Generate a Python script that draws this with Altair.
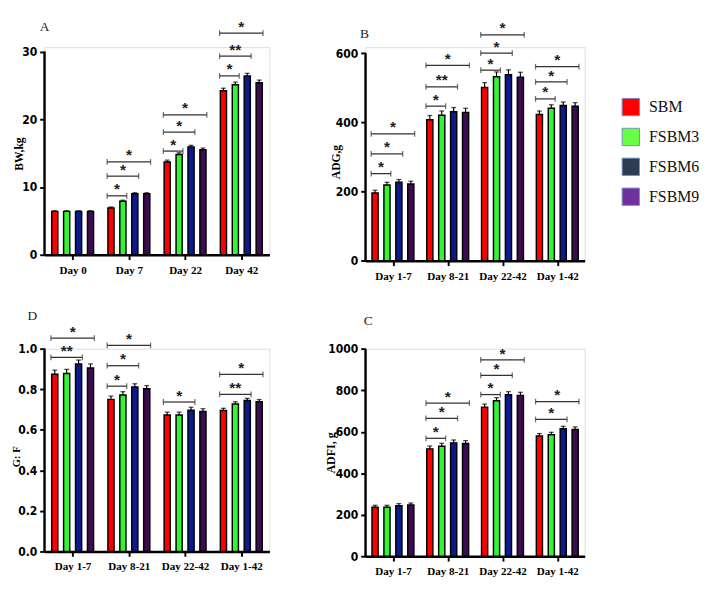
import altair as alt
import pandas as pd

series = ["SBM", "FSBM3", "FSBM6", "FSBM9"]
bar_colors = ["#ff0000", "#33f533", "#0b1b8e", "#3d0b52"]
legend_colors = ["#ff0000", "#66ff44", "#2f3b52", "#7030a0"]

days_bw = ["Day 0", "Day 7", "Day 22", "Day 42"]
days_period = ["Day 1-7", "Day 8-21", "Day 22-42", "Day 1-42"]

# Panel A: BW, kg
bw_sbm = [6.4, 6.9, 13.7, 24.2]
bw_fsbm3 = [6.4, 7.9, 14.8, 25.1]
bw_fsbm6 = [6.4, 9.0, 15.9, 26.4]
bw_fsbm9 = [6.4, 9.0, 15.5, 25.4]
bw_err = [0.1, 0.15, 0.25, 0.38]
# (group, compared series index, bracket height, label)
bw_brackets = [(1, 1, 8.7, "*"), (1, 2, 11.6, "*"), (1, 3, 13.7, "*"),
               (2, 1, 15.3, "*"), (2, 2, 18.1, "*"), (2, 3, 20.65, "*"),
               (3, 1, 26.4, "*"), (3, 2, 29.3, "**"), (3, 3, 32.7, "*")]

# Panel B: ADG, g
adg_sbm = [196, 408, 501, 423]
adg_fsbm3 = [219, 421, 532, 441]
adg_fsbm6 = [227, 431, 538, 449]
adg_fsbm9 = [222, 429, 531, 447]
adg_err = [8, 12, 14, 10]
adg_brackets = [(0, 1, 252, "*"), (0, 2, 309, "*"), (0, 3, 367, "*"),
                (1, 1, 447, "*"), (1, 2, 503, "**"), (1, 3, 565, "*"),
                (2, 1, 551, "*"), (2, 2, 600, "*"), (2, 3, 653, "*"),
                (3, 1, 468, "*"), (3, 2, 517, "*"), (3, 3, 561, "*")]

# Panel D: G:F
gf_sbm = [0.874, 0.750, 0.673, 0.695]
gf_fsbm3 = [0.878, 0.772, 0.673, 0.727]
gf_fsbm6 = [0.924, 0.811, 0.697, 0.744]
gf_fsbm9 = [0.905, 0.802, 0.690, 0.738]
gf_err = [0.02, 0.016, 0.014, 0.011]
gf_brackets = [(0, 2, 0.957, "**"), (0, 3, 1.052, "*"),
               (1, 1, 0.815, "*"), (1, 2, 0.916, "*"), (1, 3, 1.016, "*"),
               (2, 2, 0.737, "*"),
               (3, 2, 0.775, "**"), (3, 3, 0.873, "*")]

# Panel C: ADFI, g
adfi_sbm = [236, 518, 719, 580]
adfi_fsbm3 = [236, 531, 750, 586]
adfi_fsbm6 = [244, 547, 779, 615]
adfi_fsbm9 = [247, 544, 776, 612]
adfi_err = [10, 14, 15, 12]
adfi_brackets = [(1, 1, 569, "*"), (1, 2, 665, "*"), (1, 3, 739, "*"),
                 (2, 1, 780, "*"), (2, 2, 873, "*"), (2, 3, 947, "*"),
                 (3, 2, 660, "*"), (3, 3, 746, "*")]

SERIF = "Liberation Serif"
NARROW = "Liberation Sans Narrow, DejaVu Sans Condensed, Arial Narrow, sans-serif"


def panel(cats, values, errs, brackets, ticks, fmt, axis_top, dom_top, W, H,
          ytitle, tx, ty, tsize, label, lx, ly):
    u = W / 4.0
    s = 12.4 / u
    bwid = 6.4 / u
    bar_rows, err_rows = [], []
    for g in range(4):
        for j in range(4):
            xc = g + (j - 1.5) * s
            v = values[j][g]
            bar_rows.append({"x": xc - bwid / 2, "x2": xc + bwid / 2, "y": v, "y2": 0, "s": series[j]})
            err_rows.append({"x": xc, "y": v, "y2": v + errs[g]})
    bars = pd.DataFrame(bar_rows)
    errdf = pd.DataFrame(err_rows)
    capdf = errdf.assign(y=errdf["y2"])

    br_rows, brcap_rows, star_rows = [], [], []
    for g, t, h, lab in brackets:
        x0 = g - 1.5 * s - 4.0 / u
        x1 = g + (t - 1.5) * s + 4.0 / u
        br_rows.append({"x": x0, "x2": x1, "y": h})
        brcap_rows.append({"x": x0, "y": h})
        brcap_rows.append({"x": x1, "y": h})
        star_rows.append({"x": (x0 + x1) / 2, "y": h, "lab": lab})
    brdf = pd.DataFrame(br_rows)
    brcapdf = pd.DataFrame(brcap_rows)
    stardf = pd.DataFrame(star_rows)
    axdf = pd.DataFrame({"x": [-0.5], "y": [0], "y2": [axis_top]})

    names = "[" + ",".join("'" + c + "'" for c in cats) + "]"
    X = alt.X("x:Q", scale=alt.Scale(domain=[-0.5, 3.5], nice=False, zero=False),
              axis=alt.Axis(values=[0, 1, 2, 3], labelExpr=names + "[datum.value]", title=None,
                            grid=False, domainWidth=2.5, domainColor="black", tickColor="black",
                            tickWidth=2, tickSize=5, labelFont=SERIF, labelFontWeight="bold",
                            labelFontSize=11.5, labelColor="black", labelPadding=5))
    Y = alt.Y("y:Q", scale=alt.Scale(domain=[0, dom_top], nice=False, zero=True),
              axis=alt.Axis(values=ticks, format=fmt, domain=False, grid=False, tickColor="black",
                            tickWidth=2, tickSize=5, labelFont=NARROW, labelFontWeight="bold",
                            labelFontSize=12.5, labelColor="black", labelPadding=3,
                            title=ytitle, titleFont=SERIF, titleFontWeight="bold",
                            titleFontSize=tsize, titleColor="black", titleX=tx, titleY=ty))
    X2 = alt.X2("x2:Q")
    Y2 = alt.Y2("y2:Q")

    axis_line = alt.Chart(axdf).mark_rule(color="black", strokeWidth=2.5).encode(x=X, y=Y, y2=Y2)
    bar_layer = alt.Chart(bars).mark_bar(stroke="black", strokeWidth=1.5).encode(
        x=X, x2=X2, y=Y, y2=Y2,
        color=alt.Color("s:N", scale=alt.Scale(domain=series, range=bar_colors), legend=None))
    err_layer = alt.Chart(errdf).mark_rule(color="black", strokeWidth=1.2).encode(x=X, y=Y, y2=Y2)
    cap_layer = alt.Chart(capdf).mark_tick(color="black", orient="horizontal", size=5,
                                           thickness=1.3).encode(x=X, y=Y)
    br_layer = alt.Chart(brdf).mark_rule(color="#333333", strokeWidth=1.3).encode(x=X, x2=X2, y=Y)
    brcap_layer = alt.Chart(brcapdf).mark_tick(color="#333333", orient="vertical", size=6,
                                               thickness=1.3).encode(x=X, y=Y)
    star_layer = alt.Chart(stardf).mark_text(font="Liberation Sans", fontWeight="bold", fontSize=16,
                                             baseline="alphabetic", dy=-1.5, color="#222222").encode(
        x=X, y=Y, text="lab:N")
    lab_layer = alt.Chart(pd.DataFrame({"t": [label]})).mark_text(
        font=SERIF, fontSize=14, align="center", baseline="middle", color="#222222").encode(
        x=alt.value(lx), y=alt.value(ly), text="t:N")
    return alt.layer(axis_line, bar_layer, err_layer, cap_layer, br_layer, brcap_layer,
                     star_layer, lab_layer).properties(width=W, height=H)


T1 = 36.0
kA = 7.05
kB = 0.36
HA = 252 - T1
HB = 258.3 - T1
T2 = 349.0
HD = 211.0
HC = 565 - T2

pA = panel(days_bw, [bw_sbm, bw_fsbm3, bw_fsbm6, bw_fsbm9], bw_err, bw_brackets,
           [0, 10, 20, 30], "d", 30, HA / kA, 234, HA,
           "BW,kg", -20, 146.7 - T1, 12, "A", 0, 15 - T1)
pB = panel(days_period, [adg_sbm, adg_fsbm3, adg_fsbm6, adg_fsbm9], adg_err, adg_brackets,
           [0, 200, 400, 600], "d", 600, HB / kB, 228, HB,
           "ADG,g", -24, 155 - T1, 12, "B", -1, 22.7 - T1)
pD = panel(days_period, [gf_sbm, gf_fsbm3, gf_fsbm6, gf_fsbm9], gf_err, gf_brackets,
           [0, 0.2, 0.4, 0.6, 0.8, 1.0], ".1f", 1.0, 1.0, 234, HD,
           "G: F", -24, 461 - T2, 11, "D", -12.6, 315 - T2)
pC = panel(days_period, [adfi_sbm, adfi_fsbm3, adfi_fsbm6, adfi_fsbm9], adfi_err, adfi_brackets,
           [0, 200, 400, 600, 800, 1000], "d", 1000, HC / 0.2157, 228, HC,
           "ADFI, g", -29, 457 - T2, 12.5, "C", 2.7, 320.7 - T2)

# Legend (manual, colours differ from the bars as in the original figure)
leg_idx = [0, 1, 2, 3]
legdf = pd.DataFrame({"s": series, "i": leg_idx})
LY = alt.Y("i:Q", axis=None, scale=alt.Scale(domain=[-62.3 / 31.1, -62.3 / 31.1 + HA / 31.1],
                                             nice=False, zero=False, reverse=True))
leg_sq = alt.Chart(legdf).mark_square(size=324, filled=True, opacity=1, stroke="#7090c0",
                                      strokeWidth=1).encode(
    x=alt.value(-52), y=LY,
    fill=alt.Fill("s:N", scale=alt.Scale(domain=series, range=legend_colors), legend=None))
leg_tx = alt.Chart(legdf).mark_text(font=SERIF, fontSize=16.5, align="left", baseline="middle",
                                    color="#111111").encode(x=alt.value(-33), y=LY, text="s:N")
legend = alt.layer(leg_sq, leg_tx).properties(
    width=10, height=HA, view=alt.ViewBackground(stroke="transparent", fill="transparent"))

chart = alt.concat(pA, pB, legend, pD, pC, columns=3,
                   spacing={"row": T2 - (T1 + HB), "column": 100}, bounds="flush").properties(
    padding={"left": 2, "top": -1, "right": 0, "bottom": 0}
).configure_view(stroke="transparent", strokeWidth=0).configure(background="white")

chart.save("out.html", embed_options={"renderer": "svg", "actions": False})
